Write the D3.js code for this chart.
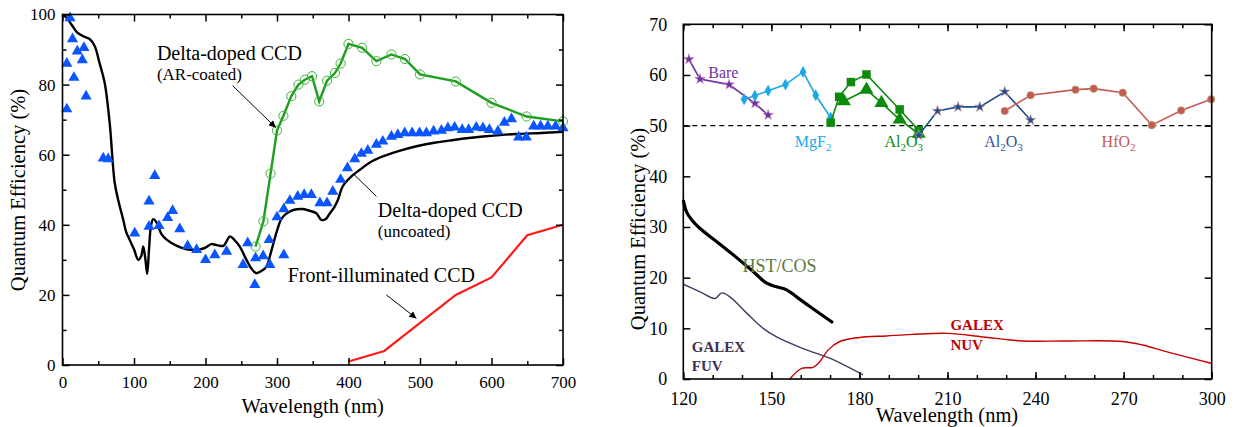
<!DOCTYPE html>
<html><head><meta charset="utf-8">
<script src="https://cdn.jsdelivr.net/npm/d3@7"></script>
<style>
body{margin:0;background:#fff;}
svg text{font-family:"Liberation Serif","Times New Roman",serif;}
</style>
</head><body><svg id="c" width="1235" height="427"></svg>
<script>
// ---------- LEFT CHART DATA ----------
const uncoatedModelWl = [0,6,13,20,29,38,45,52,59,66,73,78,85,89,94,100,106,110,113,116,118.5,121,124,127,132,138,146,160,174,192,200,208,216,225,230,234,240,248,256,264,271,278,285,292,299,306,313,324,336,346,355,362,368,374,380,385,392,404,416,430,448,470,495,520,541,565,588,612,635,670,700];
const uncoatedModelQE = [100,99,97,95,93.8,93,91,86,80.5,69,52,47,41.4,38,35.7,33,30,31,33.8,30,26,33,40,41.6,40.5,37.5,35.7,34,33,33,33.5,34.5,34.2,34,35.5,36.7,35.8,33.8,30.5,27.6,26.2,26.8,28,32.5,37.6,41.6,43.2,44.3,44.5,44,43.3,41.4,41.6,43.3,45,47,51,53.8,55.7,57.8,59.5,61,62.4,63.4,64,64.7,65.2,65.6,65.9,66.2,66.5];

const measuredWl = [6,6,10.5,14,16,20.7,27.7,30,33,57,64,101,121,121,129,135,147,154,164,175,187.5,200,213,229.5,252.6,259,269,270,280.6,290,289,300,309.5,309.5,318,329,338,348,360,370,378,389,398.5,408.7,418,427,439,448,460,469,478.6,489,499.5,509,519,530,539,548.4,559,568,578.7,588,597,609,618,628,638,648.6,659,668.6,678.8,689.6,700];
const measuredQE = [86,73,99,93,82,89.5,87,90.5,76.7,59,58.8,37.6,46.7,39.5,54,39.7,42,44,38.8,34,32.9,30,31.4,32.4,28.6,34.8,22.9,30.5,31.1,28.6,35.7,42.2,44.5,31.4,46.9,48.1,48.6,48.6,46.2,46.2,49.5,52.9,56.2,58.8,60.3,61.2,62.9,63.8,65.2,65.7,66.2,66.2,66.2,66.2,66.7,66.9,67.6,67.8,67.1,67.1,67.8,67.6,67.1,66.7,69.2,70.2,65,65,68.1,68.1,68.1,68.1,67.6];

const arCoatedWl = [270,281,291,300,309,320,330,339,349,359,370,381,389,400,419,439,460,479,500,550,600,649,700];
const arCoatedQE = [33.8,41,54.6,66.9,71.1,76.7,80,81.4,82.4,75.2,81.1,83.3,86,91.6,90.5,86.7,88.6,87.3,82.9,80.9,74.8,70.9,69.5];

const frontWl = [400,450,500,550,600,650,700];
const frontQE = [1,4,12,20,25,37,40];

const leftXTicks = [0,100,200,300,400,500,600,700];
const leftYTicks = [0,20,40,60,80,100];

// ---------- RIGHT CHART DATA ----------
const bareWl = [121.9,125.7,135.6,144.4,148.9];
const bareQE = [63.1,59.2,58.1,54.4,52.1];
const mgf2Wl = [140.7,144.4,148.9,154.8,160.8,165.1,170.2];
const mgf2QE = [55.2,55.9,56.9,58.1,60.6,56,51.6];
const al2o3SqWl = [170.2,173.1,177.1,182.4,193.7,200.2];
const al2o3SqQE = [50.6,55.7,58.6,60.1,53.2,49.1];
const al2o3TriWl = [174.7,182.4,187.5,193.7,200.2];
const al2o3TriQE = [54.8,57.1,54.5,51.2,48.4];
const al2o3BlueWl = [200.2,206.6,213.6,221,229.5,238.3];
const al2o3BlueQE = [48.1,52.9,53.7,53.7,56.7,51.1];
const hfo2Wl = [229.5,238.3,253.6,259.8,269.7,279.6,289.6,299.8];
const hfo2QE = [52.9,56,57.1,57.3,56.5,50.1,53,55.2];

const hstWl = [120,121.1,122.9,125.7,131.4,137,143.8,148.4,151.8,155.2,158.6,163.1,171];
const hstQE = [35.3,33,31.4,29.7,27.1,24.5,21.2,18.9,18.2,17.6,16.2,14.3,11.1];
const fuvWl = [120,125.7,130.8,133.1,135.9,141.6,147.2,151.8,160.8,169.9,181.2];
const fuvQE = [18.7,17.2,15.9,17,16.2,13,10,8.3,6,4.1,0.8];
const nuvWl = [156.3,160.3,164.2,166.5,169.3,173.3,180.1,189.2,198,210.2,222.1,235.7,250.5,269.7,276.5,284.5,299.8];
const nuvQE = [0,2.1,2.3,3.4,5.7,7.4,8.2,8.5,8.8,9,8.3,7.5,7.5,7.4,6.7,5.4,3.1];

const rightXTicks = [120,150,180,210,240,270,300];
const rightYTicks = [0,10,20,30,40,50,60,70];
const referenceLevel = 50;

const zip = (a,b) => a.map((v,i)=>[v,b[i]]);
const svg = d3.select('#c');

function frameAxes(g, x, y, o){
  const [x0,x1] = x.range(), [y0,y1] = y.range();
  const clean = a=>{a.select('.domain').remove(); a.attr('font-family',null);};
  g.append('g').attr('transform',`translate(0,${y0})`)
    .call(d3.axisBottom(x).tickValues(o.xMinor).tickSize(-4).tickFormat('')).call(clean);
  const bx = g.append('g').attr('transform',`translate(0,${y0})`)
    .call(d3.axisBottom(x).tickValues(o.xMajor).tickSize(-7).tickFormat(d3.format('d'))).call(clean);
  bx.selectAll('text').attr('y',o.xLabY).attr('dy',0).attr('font-size',o.tickFs).attr('fill','#000');
  g.append('g').attr('transform',`translate(0,${y1})`)
    .call(d3.axisTop(x).tickValues(o.xMinor).tickSize(-4).tickFormat('')).call(clean);
  g.append('g').attr('transform',`translate(0,${y1})`)
    .call(d3.axisTop(x).tickValues(o.xMajor).tickSize(-7).tickFormat('')).call(clean);
  if(o.yMinor) g.append('g').attr('transform',`translate(${x0},0)`)
    .call(d3.axisLeft(y).tickValues(o.yMinor).tickSize(-4).tickFormat('')).call(clean);
  const ly = g.append('g').attr('transform',`translate(${x0},0)`)
    .call(d3.axisLeft(y).tickValues(o.yMajor).tickSize(-7).tickFormat(d3.format('d'))).call(clean);
  ly.selectAll('text').attr('x',o.yLabX).attr('font-size',o.tickFs).attr('fill','#000');
  if(o.yMinor) g.append('g').attr('transform',`translate(${x1},0)`)
    .call(d3.axisRight(y).tickValues(o.yMinor).tickSize(-4).tickFormat('')).call(clean);
  g.append('g').attr('transform',`translate(${x1},0)`)
    .call(d3.axisRight(y).tickValues(o.yMajor).tickSize(-7).tickFormat('')).call(clean);
  g.selectAll('.tick line').attr('stroke','#000').attr('stroke-width',1.5);
  g.append('rect').attr('x',x0).attr('y',y1).attr('width',x1-x0).attr('height',y0-y1)
    .attr('fill','none').attr('stroke','#000').attr('stroke-width',1.6);
}

svg.append('defs').append('marker').attr('id','arr').attr('viewBox','0 0 10 10')
  .attr('refX',10).attr('refY',5).attr('markerWidth',9).attr('markerHeight',7).attr('orient','auto')
  .attr('markerUnits','userSpaceOnUse')
  .append('path').attr('d','M0,0 L10,5 L0,10 Z').attr('fill','#000');

// ================= LEFT =================
const xL = d3.scaleLinear().domain([0,700]).range([62.5,563]);
const yL = d3.scaleLinear().domain([0,100]).range([365,14.5]);
const gL = svg.append('g');

gL.append('path').datum(zip(uncoatedModelWl,uncoatedModelQE))
  .attr('d',d3.line().x(d=>xL(d[0])).y(d=>yL(d[1])).curve(d3.curveCatmullRom.alpha(0.5)))
  .attr('fill','none').attr('stroke','#000').attr('stroke-width',2.4);
gL.selectAll('.tri').data(zip(measuredWl,measuredQE)).join('path')
  .attr('transform',d=>`translate(${xL(d[0])},${yL(d[1])})`)
  .attr('d',d3.symbol().type(d3.symbolTriangle).size(54)).attr('fill','#0a55ff');
gL.append('path').datum(zip(arCoatedWl,arCoatedQE))
  .attr('d',d3.line().x(d=>xL(d[0])).y(d=>yL(d[1]))).attr('fill','none').attr('stroke','#1d9e1d').attr('stroke-width',2.4);
gL.selectAll('.circ').data(zip(arCoatedWl,arCoatedQE)).join('circle')
  .attr('cx',d=>xL(d[0])).attr('cy',d=>yL(d[1])).attr('r',4.6)
  .attr('fill','none').attr('stroke','#3cb43c').attr('stroke-width',1);
gL.append('path').datum(zip(frontWl,frontQE))
  .attr('d',d3.line().x(d=>xL(d[0])).y(d=>yL(d[1]))).attr('fill','none').attr('stroke','#ff1a1a').attr('stroke-width',2.2);

frameAxes(gL,xL,yL,{xMajor:leftXTicks,xMinor:d3.range(50,700,100),yMajor:leftYTicks,yMinor:d3.range(10,100,20),xLabY:23,yLabX:-7,tickFs:17});

const annL = (wl,qe,txt,fs)=>gL.append('text').attr('x',xL(wl)).attr('y',yL(qe)).attr('font-size',fs).attr('fill','#000').text(txt);
annL(132,87.1,'Delta-doped CCD',20);
annL(132,81.4,'(AR-coated)',17);
annL(441,42.3,'Delta-doped CCD',20);
annL(441,36.6,'(uncoated)',17);
annL(315,23.7,'Front-illuminated CCD',20);
const arrowL = (a,b,m)=>{const l=gL.append('line').attr('x1',xL(a[0])).attr('y1',yL(a[1])).attr('x2',xL(b[0])).attr('y2',yL(b[1])).attr('stroke','#000').attr('stroke-width',1); if(m) l.attr('marker-end','url(#arr)');};
arrowL([238,79.7],[298.3,67.7],true);
arrowL([439,48.1],[406,54.7],false);
arrowL([453,20],[495,13.3],true);

gL.append('text').attr('x',(62.5+563)/2).attr('y',413).attr('text-anchor','middle').attr('font-size',20.5).text('Wavelength (nm)');
gL.append('text').attr('transform','translate(25,190) rotate(-90)').attr('text-anchor','middle').attr('font-size',20.5).text('Quantum Efficiency (%)');

// ================= RIGHT =================
const xR = d3.scaleLinear().domain([120,300]).range([683.3,1211.7]);
const yR = d3.scaleLinear().domain([0,70]).range([379,24.3]);
const gR = svg.append('g');
const lineR = d3.line().x(d=>xR(d[0])).y(d=>yR(d[1]));

gR.append('line').attr('x1',xR(120)).attr('x2',xR(300)).attr('y1',yR(referenceLevel)).attr('y2',yR(referenceLevel))
  .attr('stroke','#000').attr('stroke-width',1.4).attr('stroke-dasharray','5,4');

function series(wl,qe,color,sym,size,stroke){
  const d = zip(wl,qe);
  gR.append('path').datum(d).attr('d',lineR).attr('fill','none').attr('stroke',color).attr('stroke-width',1.6);
  gR.selectAll(null).data(d).join('path')
    .attr('transform',p=>`translate(${xR(p[0])},${yR(p[1])})`)
    .attr('d',d3.symbol().type(sym).size(size)).attr('fill',color)
    .attr('stroke',stroke||'none').attr('stroke-width',0.6);
}
series(bareWl,bareQE,'#7030a0',d3.symbolStar,36,'#d9a0c8');
series(mgf2Wl,mgf2QE,'#1aa8e8',d3.symbolDiamond,40);
series(al2o3SqWl,al2o3SqQE,'#0b8a0b',d3.symbolSquare,72);
series(al2o3TriWl,al2o3TriQE,'#0b8a0b',d3.symbolTriangle,85);
series(al2o3BlueWl,al2o3BlueQE,'#1f4e8c',d3.symbolStar,36,'#e0a0a0');
series(hfo2Wl,hfo2QE,'#c55a55',d3.symbolCircle,45,'#a8b070');

const curveR = d3.line().x(d=>xR(d[0])).y(d=>yR(d[1])).curve(d3.curveCatmullRom.alpha(0.5));
gR.append('path').datum(zip(hstWl,hstQE)).attr('d',curveR).attr('fill','none').attr('stroke','#000').attr('stroke-width',3.2);
gR.append('path').datum(zip(fuvWl,fuvQE)).attr('d',curveR).attr('fill','none').attr('stroke','#463a66').attr('stroke-width',1.4);
gR.append('path').datum(zip(nuvWl,nuvQE)).attr('d',curveR).attr('fill','none').attr('stroke','#c80000').attr('stroke-width',1.4);

frameAxes(gR,xR,yR,{xMajor:rightXTicks,xMinor:d3.range(120,301,10),yMajor:rightYTicks,yMinor:null,xLabY:26,yLabX:-16,tickFs:18});

const annR = (wl,qe,txt,fs,color,bold)=>gR.append('text').attr('x',xR(wl)).attr('y',yR(qe)).attr('font-size',fs).attr('fill',color).attr('font-weight',bold?'bold':'normal').text(txt);
annR(128.5,59.5,'Bare',16,'#7030a0');
annR(140.2,21.2,'HST/COS',18,'#5f7a3c');
annR(122.9,5.35,'GALEX',15,'#403152',true);
annR(122.9,1.6,'FUV',15,'#403152',true);
annR(211,9.6,'GALEX',15,'#c00000',true);
annR(211,5.65,'NUV',15,'#c00000',true);
function chem(wl,parts,color){
  const t = gR.append('text').attr('x',xR(wl)).attr('y',yR(45.8)).attr('font-size',16).attr('fill',color);
  let sub = false;
  parts.forEach(p=>{
    if(typeof p==='string'){ const s=t.append('tspan').text(p); if(sub){s.attr('dy',-4); sub=false;} }
    else { t.append('tspan').attr('font-size',11).attr('dy',4).text(p[0]); sub=true; }
  });
}
chem(158,['MgF',['2']],'#1aa8e8');
chem(188.5,['Al',['2'],'O',['3']],'#0b8a0b');
chem(222.5,['Al',['2'],'O',['3']],'#2f5597');
chem(262.5,['HfO',['2']],'#c55a55');

gR.append('text').attr('x',947).attr('y',422).attr('text-anchor','middle').attr('font-size',20.5).text('Wavelength (nm)');
gR.append('text').attr('transform','translate(645,229) rotate(-90)').attr('text-anchor','middle').attr('font-size',20.5).text('Quantum Efficiency (%)');
</script></body></html>
